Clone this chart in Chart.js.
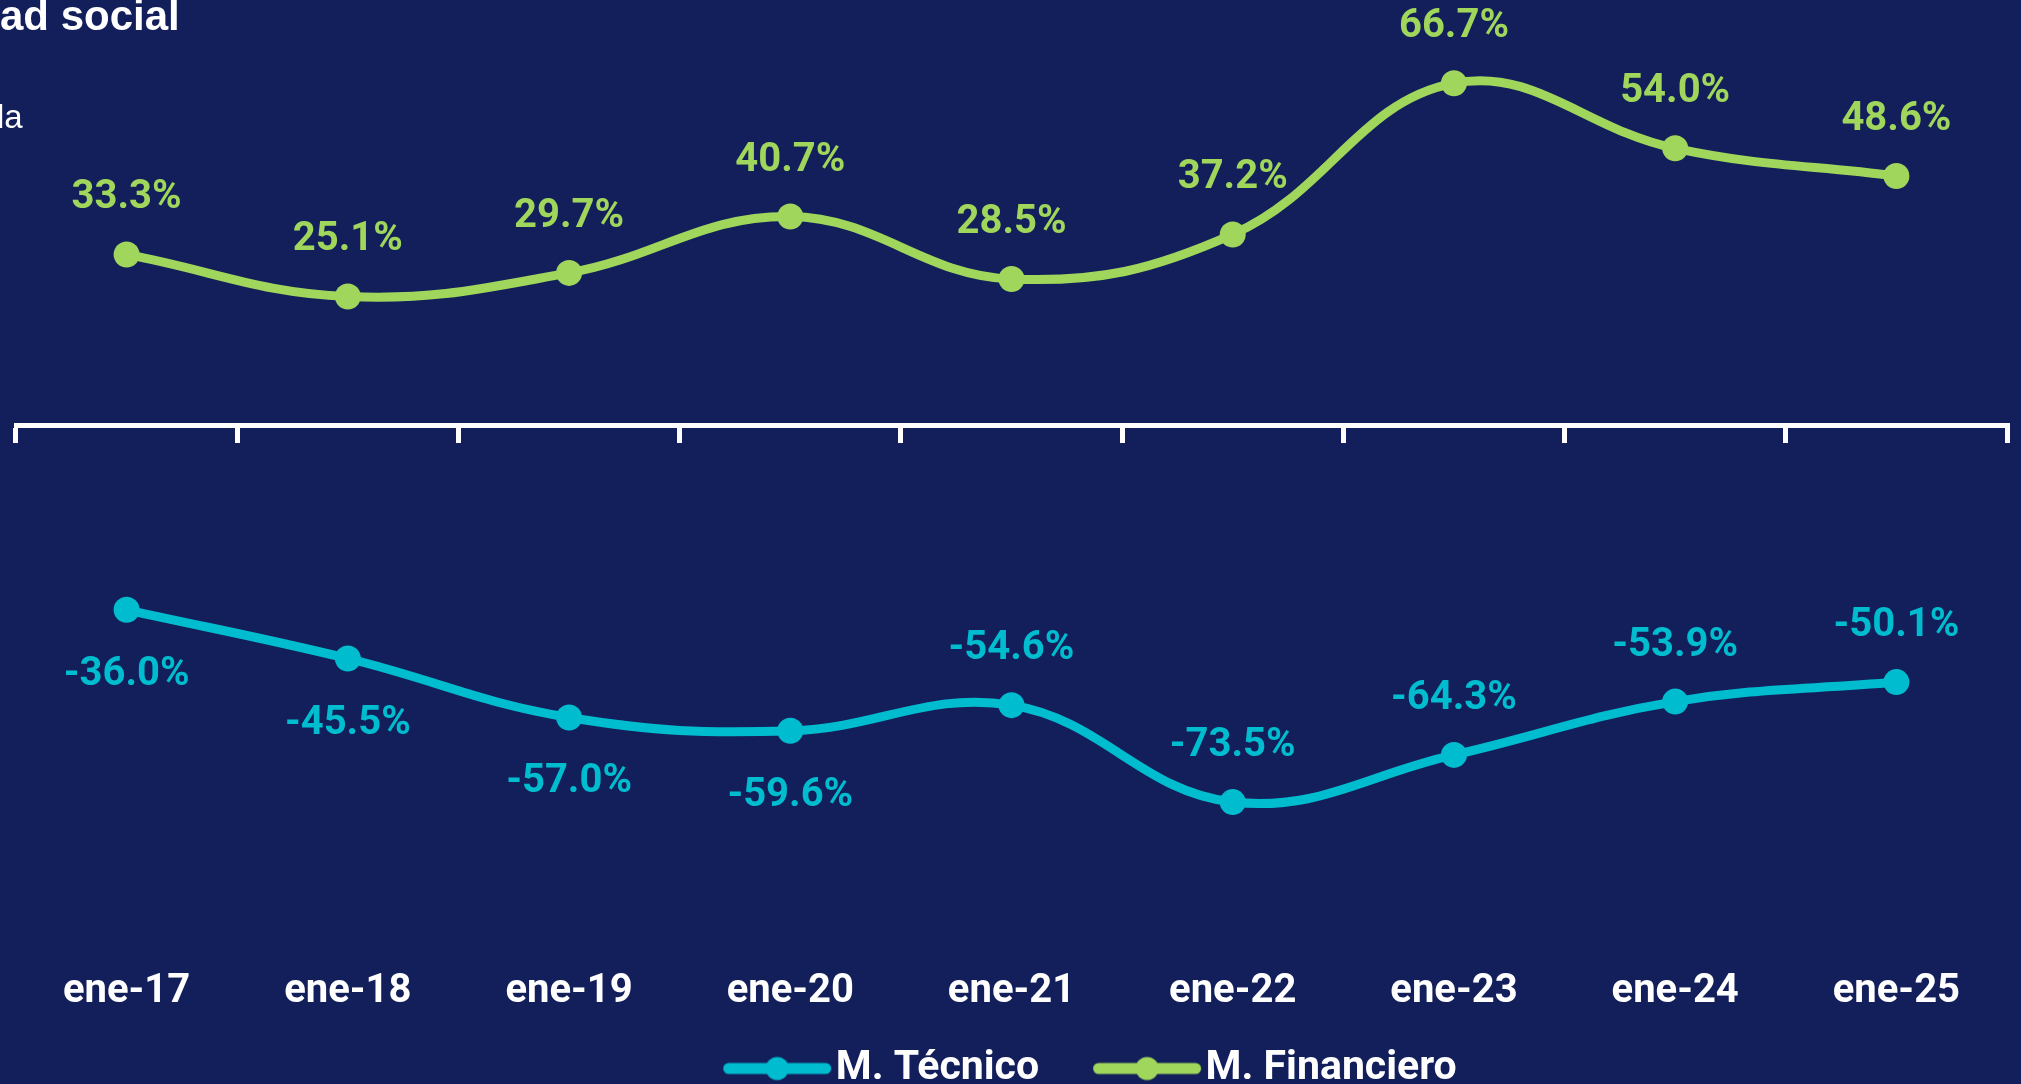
<!DOCTYPE html>
<html>
<head>
<meta charset="utf-8">
<script src="https://cdn.jsdelivr.net/npm/chart.js@4.4.1/dist/chart.umd.min.js"></script>
<style>
html, body { margin: 0; padding: 0; background: #121f5a; overflow: hidden; }
#wrap { position: relative; width: 2021px; height: 1084px; }
canvas { display: block; }
.hd { position: absolute; color: #fff; font-family: 'Liberation Sans', Arial, sans-serif; white-space: nowrap; }
#h1 { left: 0; top: -5px; font-size: 42px; line-height: 42px; font-weight: bold; }
#h2 { left: -3px; top: 101px; font-size: 33px; line-height: 32px; }
</style>
</head>
<body>
<div id="wrap">
  <canvas id="chart" width="2021" height="1084"></canvas>
  <div class="hd" id="h1">ad social</div>
  <div class="hd" id="h2">la</div>
</div>
<script>
const categories = ['ene-17', 'ene-18', 'ene-19', 'ene-20', 'ene-21', 'ene-22', 'ene-23', 'ene-24', 'ene-25'];
const tecnico = [-36.0, -45.5, -57.0, -59.6, -54.6, -73.5, -64.3, -53.9, -50.1];
const financiero = [33.3, 25.1, 29.7, 40.7, 28.5, 37.2, 66.7, 54.0, 48.6];
// where each value label sits relative to its point
const tecnicoLabelSide = ['below', 'below', 'below', 'below', 'above', 'above', 'above', 'above', 'above'];
const financieroLabelSide = ['above', 'above', 'above', 'above', 'above', 'above', 'above', 'above', 'above'];

const cyan = '#00bccf';
const green = '#a0d65b';

// legend marker: thick line with a dot; drawn wider than the box so it sits next to its text
function legendIcon(color) {
    const c = document.createElement('canvas');
    c.width = 184;
    c.height = 30;
    const g = c.getContext('2d');
    g.strokeStyle = color;
    g.lineWidth = 11;
    g.lineCap = 'round';
    g.beginPath();
    g.moveTo(76.5, 15);
    g.lineTo(173.5, 15);
    g.stroke();
    g.fillStyle = color;
    g.beginPath();
    g.arc(125, 15, 11.5, 0, Math.PI * 2);
    g.fill();
    return c;
}

const valueLabels = {
    id: 'valueLabels',
    afterDatasetsDraw(chart, args, opts) {
        const ctx = chart.ctx;
        ctx.save();
        ctx.font = 'bold 40px Roboto';
        ctx.textAlign = 'center';
        ctx.textBaseline = 'middle';
        chart.data.datasets.forEach((ds, i) => {
            const meta = chart.getDatasetMeta(i);
            ctx.fillStyle = ds.borderColor;
            meta.data.forEach((pt, j) => {
                const dy = opts.sides[i][j] === 'above' ? -opts.above : opts.below;
                ctx.fillText(ds.data[j].toFixed(1) + '%', pt.x, pt.y + dy);
            });
        });
        ctx.restore();
    }
};

new Chart(document.getElementById('chart').getContext('2d'), {
    type: 'line',
    data: {
        labels: categories,
        datasets: [
            {
                label: 'M. Técnico',
                data: tecnico,
                borderColor: cyan,
                backgroundColor: cyan,
                pointBackgroundColor: cyan,
                borderWidth: 9,
                pointRadius: 13,
                pointHoverRadius: 13,
                pointBorderWidth: 0,
                tension: 0.4,
                clip: false,
                xAxisID: 'x',
                yAxisID: 'y'
            },
            {
                label: 'M. Financiero',
                data: financiero,
                borderColor: green,
                backgroundColor: green,
                pointBackgroundColor: green,
                borderWidth: 9,
                pointRadius: 13,
                pointHoverRadius: 13,
                pointBorderWidth: 0,
                tension: 0.4,
                clip: false,
                xAxisID: 'x',
                yAxisID: 'y'
            }
        ]
    },
    options: {
        responsive: false,
        animation: false,
        devicePixelRatio: 1,
        layout: { padding: { left: 16, right: -93, top: 15, bottom: -15 } },
        scales: {
            y: {
                // hidden axis on the right, only used as a spacer so the legend sits off-centre like the original
                display: true,
                position: 'right',
                min: -100.4,
                max: 80,
                grid: { display: false },
                border: { display: false },
                ticks: { display: false },
                afterFit(scale) { scale.width = 107; }
            },
            x: {
                type: 'category',
                position: 'bottom',
                offset: true,
                grid: { display: false, drawTicks: false },
                border: { display: false },
                ticks: {
                    color: '#fff',
                    font: { family: 'Roboto', size: 40, weight: 'bold' },
                    padding: 28,
                    maxRotation: 0,
                    autoSkip: false
                }
            },
            x0: {
                type: 'category',
                position: { y: 0 },
                offset: true,
                grid: {
                    display: true,
                    offset: true,
                    drawOnChartArea: false,
                    drawTicks: true,
                    tickLength: 15,
                    tickWidth: 5,
                    lineWidth: 5,
                    tickColor: '#fff',
                    color: '#fff'
                },
                border: { display: true, color: '#fff', width: 5 },
                ticks: { display: false }
            }
        },
        plugins: {
            tooltip: { enabled: false },
            legend: {
                position: 'bottom',
                labels: {
                    color: '#fff',
                    font: { family: 'Roboto', size: 41, weight: 'bold' },
                    usePointStyle: true,
                    pointStyleWidth: 142,
                    padding: 4,
                    generateLabels(chart) {
                        const items = Chart.defaults.plugins.legend.labels.generateLabels(chart);
                        items.forEach(it => {
                            it.pointStyle = legendIcon(chart.data.datasets[it.datasetIndex].borderColor);
                        });
                        return items;
                    }
                }
            },
            valueLabels: {
                above: 56,
                below: 65,
                sides: [tecnicoLabelSide, financieroLabelSide]
            }
        }
    },
    plugins: [valueLabels]
});
</script>
</body>
</html>
